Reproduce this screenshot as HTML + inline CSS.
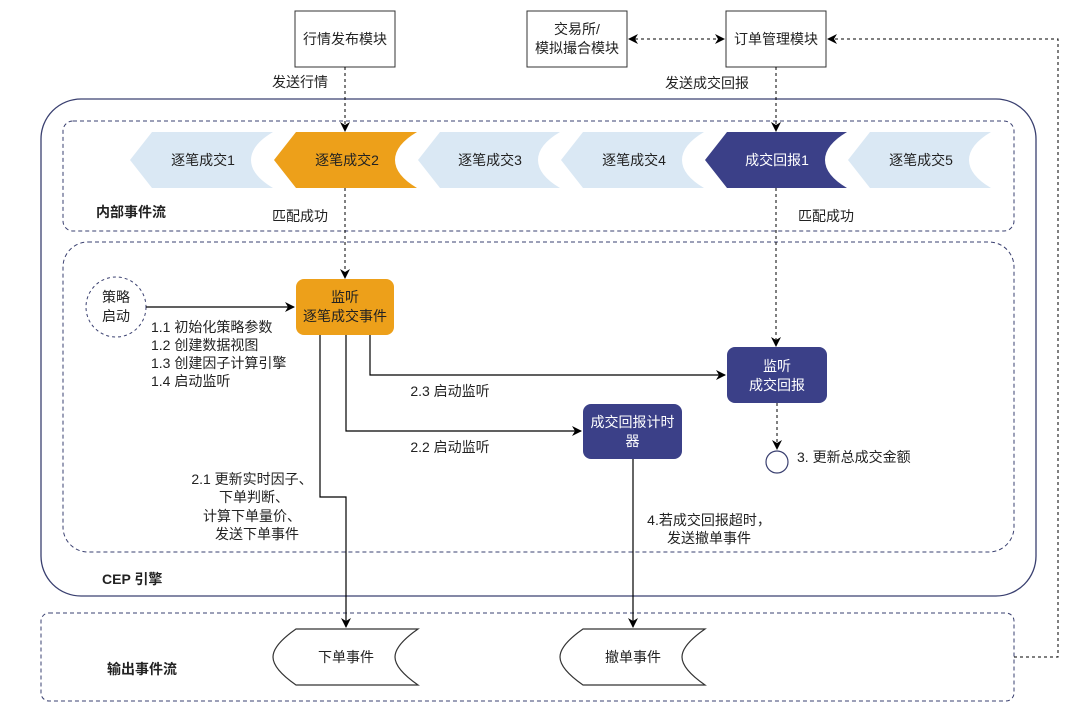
<!DOCTYPE html>
<html><head><meta charset="utf-8"><style>
html,body{margin:0;padding:0;background:#fff;}
svg text{font-family:"Liberation Sans","Noto Sans CJK SC",sans-serif;font-size:14px;fill:#222;}
.b{font-weight:bold;}
.w{fill:#fff;}
</style></head><body>
<svg width="1080" height="713" viewBox="0 0 1080 713" xmlns="http://www.w3.org/2000/svg">
<defs>
<marker id="ah" markerWidth="10" markerHeight="10" refX="9" refY="5" orient="auto" markerUnits="userSpaceOnUse">
<path d="M0,0 L10,5 L0,10 L3,5 Z" fill="#000"/></marker>
<marker id="as" markerWidth="10" markerHeight="10" refX="1" refY="5" orient="auto" markerUnits="userSpaceOnUse">
<path d="M10,0 L0,5 L10,10 L7,5 Z" fill="#000"/></marker>
</defs>

<!-- containers -->
<rect x="41" y="99" width="995" height="497" rx="40" fill="none" stroke="#3a4070" stroke-width="1.3"/>
<rect x="63" y="121" width="951" height="110" rx="10" fill="none" stroke="#3a4070" stroke-dasharray="4,3"/>
<rect x="63" y="242" width="951" height="310" rx="25" fill="none" stroke="#3a4070" stroke-dasharray="4,3"/>
<rect x="41" y="613" width="973" height="88" rx="8" fill="none" stroke="#3a4070" stroke-dasharray="4,3"/>

<!-- top boxes -->
<rect x="295" y="11" width="100" height="56" fill="#fff" stroke="#333"/>
<text x="345" y="44" text-anchor="middle">行情发布模块</text>
<rect x="527" y="11" width="100" height="56" fill="#fff" stroke="#333"/>
<text x="577" y="34" text-anchor="middle">交易所/</text>
<text x="577" y="53" text-anchor="middle">模拟撮合模块</text>
<rect x="726" y="11" width="100" height="56" fill="#fff" stroke="#333"/>
<text x="776" y="44" text-anchor="middle">订单管理模块</text>

<!-- dashed connectors top -->
<line x1="629" y1="39" x2="724" y2="39" stroke="#000" stroke-dasharray="3,3" marker-start="url(#as)" marker-end="url(#ah)"/>
<polyline points="1014,657 1058,657 1058,39 828,39" fill="none" stroke="#000" stroke-dasharray="3,3" marker-end="url(#ah)"/>
<line x1="345" y1="67" x2="345" y2="131" stroke="#000" stroke-dasharray="3,3" marker-end="url(#ah)"/>
<line x1="776" y1="67" x2="776" y2="131" stroke="#000" stroke-dasharray="3,3" marker-end="url(#ah)"/>
<text x="300" y="87" text-anchor="middle">发送行情</text>
<text x="707" y="88" text-anchor="middle">发送成交回报</text>

<!-- chevrons -->
<g>
<path d="M130,160 L152,132 L273,132 Q251,145 251,160 Q251,175 273,188 L152,188 Z" fill="#dae8f4"/>
<text x="203" y="165" text-anchor="middle">逐笔成交1</text>
<path d="M274,160 L296,132 L417,132 Q395,145 395,160 Q395,175 417,188 L296,188 Z" fill="#eda01a"/>
<text x="347" y="165" text-anchor="middle">逐笔成交2</text>
<path d="M418,160 L440,132 L560,132 Q538,145 538,160 Q538,175 560,188 L440,188 Z" fill="#dae8f4"/>
<text x="490" y="165" text-anchor="middle">逐笔成交3</text>
<path d="M561,160 L583,132 L704,132 Q682,145 682,160 Q682,175 704,188 L583,188 Z" fill="#dae8f4"/>
<text x="634" y="165" text-anchor="middle">逐笔成交4</text>
<path d="M705,160 L727,132 L847,132 Q825,145 825,160 Q825,175 847,188 L727,188 Z" fill="#3b4088"/>
<text x="777" y="165" text-anchor="middle" class="w">成交回报1</text>
<path d="M848,160 L870,132 L991,132 Q969,145 969,160 Q969,175 991,188 L870,188 Z" fill="#dae8f4"/>
<text x="921" y="165" text-anchor="middle">逐笔成交5</text>
</g>

<text x="96" y="217" class="b">内部事件流</text>
<text x="300" y="221" text-anchor="middle">匹配成功</text>
<text x="826" y="221" text-anchor="middle">匹配成功</text>

<line x1="345" y1="188" x2="345" y2="278" stroke="#000" stroke-dasharray="3,3" marker-end="url(#ah)"/>
<line x1="776" y1="188" x2="776" y2="346" stroke="#000" stroke-dasharray="3,3" marker-end="url(#ah)"/>

<!-- strategy start -->
<circle cx="116" cy="307" r="30" fill="#fff" stroke="#3a4070" stroke-dasharray="3,3"/>
<text x="116" y="302" text-anchor="middle">策略</text>
<text x="116" y="321" text-anchor="middle">启动</text>
<line x1="146" y1="307" x2="294" y2="307" stroke="#000" stroke-width="1.2" marker-end="url(#ah)"/>
<text x="151" y="332">1.1 初始化策略参数</text>
<text x="151" y="350">1.2 创建数据视图</text>
<text x="151" y="368">1.3 创建因子计算引擎</text>
<text x="151" y="386">1.4 启动监听</text>

<!-- orange box -->
<rect x="296" y="279" width="98" height="56" rx="8" fill="#eda01a"/>
<text x="345" y="302" text-anchor="middle">监听</text>
<text x="345" y="321" text-anchor="middle">逐笔成交事件</text>

<!-- lines from orange box -->
<polyline points="320,335 320,497 346,497 346,627" fill="none" stroke="#000" stroke-width="1.2" marker-end="url(#ah)"/>
<polyline points="346,335 346,431 581,431" fill="none" stroke="#000" stroke-width="1.2" marker-end="url(#ah)"/>
<polyline points="370,335 370,375 725,375" fill="none" stroke="#000" stroke-width="1.2" marker-end="url(#ah)"/>
<text x="450" y="396" text-anchor="middle">2.3 启动监听</text>
<text x="450" y="452" text-anchor="middle">2.2 启动监听</text>
<text x="252" y="484" text-anchor="middle">2.1 更新实时因子、</text>
<text x="254" y="502" text-anchor="middle">下单判断、</text>
<text x="252" y="521" text-anchor="middle">计算下单量价、</text>
<text x="257" y="539" text-anchor="middle">发送下单事件</text>

<!-- navy boxes -->
<rect x="727" y="347" width="100" height="56" rx="8" fill="#3b4088"/>
<text x="777" y="371" text-anchor="middle" class="w">监听</text>
<text x="777" y="390" text-anchor="middle" class="w">成交回报</text>
<rect x="583" y="404" width="99" height="55" rx="8" fill="#3b4088"/>
<text x="632.5" y="427" text-anchor="middle" class="w">成交回报计时</text>
<text x="632.5" y="446" text-anchor="middle" class="w">器</text>

<line x1="777" y1="403" x2="777" y2="449" stroke="#000" stroke-dasharray="3,3" marker-end="url(#ah)"/>
<circle cx="777" cy="462" r="11" fill="#fff" stroke="#3a4070" stroke-width="1.2"/>
<text x="797" y="462">3. 更新总成交金额</text>

<line x1="633" y1="459" x2="633" y2="627" stroke="#000" stroke-width="1.2" marker-end="url(#ah)"/>
<text x="709" y="525" text-anchor="middle">4.若成交回报超时，</text>
<text x="709" y="543" text-anchor="middle">发送撤单事件</text>

<text x="102" y="584" class="b">CEP 引擎</text>
<text x="107" y="674" class="b">输出事件流</text>

<!-- output shapes -->
<path d="M296,629 L418,629 Q395,645 395,657 Q395,669 418,685 L296,685 Q273,669 273,657 Q273,645 296,629 Z" fill="#fff" stroke="#333" stroke-width="1.2"/>
<text x="346" y="662" text-anchor="middle">下单事件</text>
<path d="M583,629 L705,629 Q682,645 682,657 Q682,669 705,685 L583,685 Q560,669 560,657 Q560,645 583,629 Z" fill="#fff" stroke="#333" stroke-width="1.2"/>
<text x="633" y="662" text-anchor="middle">撤单事件</text>
</svg>
</body></html>
